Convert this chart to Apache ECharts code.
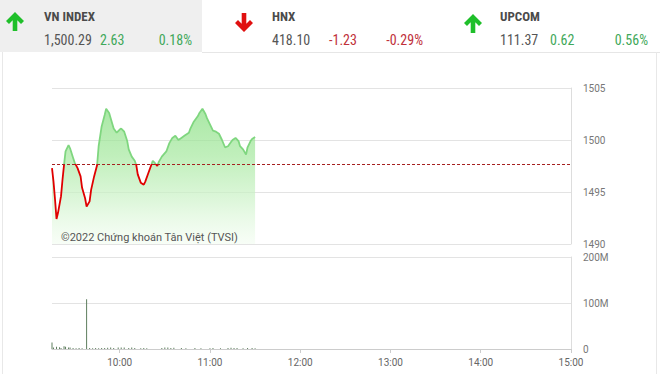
<!DOCTYPE html>
<html>
<head>
<meta charset="utf-8">
<script src="https://cdn.jsdelivr.net/npm/echarts@6/dist/echarts.min.js"></script>
<style>
html,body{margin:0;padding:0;background:#fff;}
#c{width:660px;height:374px;}
</style>
</head>
<body>
<div id="c"></div>
<script>
// ---- data ----
const refValue = 1497.66;
const priceTimes = ["09:15","09:16","09:17","09:18","09:19","09:21","09:22","09:23","09:24","09:26","09:27","09:29","09:30","09:32","09:34","09:35","09:37","09:38","09:40","09:41","09:43","09:45","09:46","09:48","09:50","09:51","09:53","09:54","09:56","09:58","10:00","10:01","10:03","10:05","10:06","10:08","10:10","10:11","10:12","10:14","10:16","10:17","10:19","10:21","10:22","10:23","10:25","10:26","10:28","10:31","10:33","10:35","10:37","10:39","10:41","10:43","10:46","10:47","10:49","10:52","10:53","10:55","10:57","10:58","11:00","11:02","11:04","11:06","11:08","11:10","11:12","11:14","11:15","11:17","11:19","11:20","11:22","11:24","11:25","11:27","11:28","11:30"];
const priceValues = [1497.3,1496.0,1494.3,1492.4,1493.0,1494.6,1496.2,1497.6,1498.9,1499.5,1499.2,1498.3,1497.85,1497.3,1496.5,1495.4,1494.4,1493.6,1494.1,1495.2,1496.5,1497.6,1499.4,1501.3,1502.4,1503.0,1502.6,1502.1,1501.1,1500.7,1501.0,1501.1,1500.8,1499.9,1499.1,1498.4,1498.0,1497.6,1496.7,1495.9,1495.7,1496.0,1496.8,1497.6,1498.0,1497.85,1497.5,1497.9,1498.4,1498.9,1499.7,1500.2,1500.4,1500.0,1500.2,1500.4,1500.7,1501.1,1501.7,1502.3,1502.6,1503.0,1502.5,1502.1,1501.5,1500.9,1500.8,1500.6,1500.0,1499.3,1499.4,1499.8,1500.0,1500.2,1499.9,1499.4,1499.1,1498.6,1499.3,1499.9,1500.1,1500.29];
const volTimes = ["09:15","09:16","09:18","09:20","09:21","09:23","09:24","09:26","09:27","09:29","09:31","09:33","09:35","09:38","09:40","09:42","09:44","09:46","09:48","09:50","09:52","09:54","09:56","09:59","10:01","10:03","10:06","10:08","10:10","10:14","10:16","10:18","10:28","10:30","10:32","10:34","10:36","10:41","10:44","10:50","10:54","11:00","11:02","11:07","11:12","11:14","11:16","11:18","11:22","11:25","11:28","11:30"];
const volValues = [14,3,5,4,2,6,5,3,3,2,1.5,2,1.5,108,2,1.5,2,1.5,2,2,2.5,3,2,3.5,3,3,2,3,2,1.5,2,1.5,2,3,3.5,2,2.5,2,1.5,2,1.5,1.5,2,1.5,2,2.5,2,2,1.5,2,2,1.5];
const hourTicks = ["10:00","11:00","12:00","13:00","14:00","15:00"];
const header = [
  {name:"VN INDEX", value:"1,500.29", change:"2.63", pct:"0.18%", up:true},
  {name:"HNX", value:"418.10", change:"-1.23", pct:"-0.29%", up:false},
  {name:"UPCOM", value:"111.37", change:"0.62", pct:"0.56%", up:true}
];

// ---- helpers ----
function toMin(s){const p=s.split(':');return (+p[0])*60+(+p[1]);}
function fmt(m){const h=Math.floor(m/60), mm=m%60;return (h<10?'0':'')+h+':'+(mm<10?'0':'')+mm;}
const priceData = priceTimes.map((t,i)=>[toMin(t), priceValues[i]]);
const volData = volTimes.map((t,i)=>[toMin(t), volValues[i]]);
const hourMins = hourTicks.map(toMin);

// header graphics
const narrow = "'Liberation Sans Narrow','Roboto Condensed','Roboto',sans-serif";
const g = [];
g.push({type:'rect', shape:{x:0,y:0,width:202,height:52}, style:{fill:'#efefef'}, silent:true});
g.push({type:'line', shape:{x1:202,y1:52.5,x2:660,y2:52.5}, style:{stroke:'#e6e6e6',lineWidth:1}});
g.push({type:'line', shape:{x1:2.5,y1:52,x2:2.5,y2:374}, style:{stroke:'#e8e8e8',lineWidth:1}});
g.push({type:'line', shape:{x1:656.5,y1:52,x2:656.5,y2:374}, style:{stroke:'#e8e8e8',lineWidth:1}});
const arrowCx = [15, 244, 473];
const arrowTop = [12, 13, 14];
header.forEach((h,i)=>{
  const cx = arrowCx[i], t = arrowTop[i], H = 19;
  let pts;
  if(h.up){
    pts=[[cx,t],[cx+9,t+9],[cx+6,t+12],[cx+2.3,t+8.3],[cx+2.3,t+H],[cx-2.3,t+H],[cx-2.3,t+8.3],[cx-6,t+12],[cx-9,t+9]];
  } else {
    const b=t+H;
    pts=[[cx,b],[cx+9,b-9],[cx+6,b-12],[cx+2.3,b-8.3],[cx+2.3,t],[cx-2.3,t],[cx-2.3,b-8.3],[cx-6,b-12],[cx-9,b-9]];
  }
  g.push({type:'polygon', shape:{points:pts}, style:{fill: h.up ? '#1fbf2a' : '#e01010'}});
  const x0 = [44, 272, 500][i];
  const col = h.up ? '#3fa85a' : '#c0303a';
  g.push({type:'text', x:x0, y:16, style:{text:h.name, font:"bold 13px "+narrow, fill:'#4a4a4a', textVerticalAlign:'middle'}});
  g.push({type:'text', x:x0, y:40, style:{text:h.value, font:"14px "+narrow, fill:'#555', textVerticalAlign:'middle'}});
  g.push({type:'text', x:[100,329,550][i], y:40, style:{text:h.change, font:"14px "+narrow, fill:col, textVerticalAlign:'middle'}});
  g.push({type:'text', x:[192,423,648][i], y:40, style:{text:h.pct, font:"14px "+narrow, fill:col, textVerticalAlign:'middle', textAlign:'right'}});
});
g.push({type:'text', x:61, y:237, z:100, zlevel:0, style:{text:'©2022 Chứng khoán Tân Việt (TVSI)', font:"11px Roboto, sans-serif", fill:'#555', textVerticalAlign:'middle'}});

const chart = echarts.init(document.getElementById('c'), null, {renderer:'svg'});
chart.setOption({
  animation:false,
  backgroundColor:'#fff',
  graphic: g,
  grid:[
    {left:52, right:89, top:88, height:156},
    {left:52, right:89, top:257, height:92}
  ],
  xAxis:[
    {type:'value', gridIndex:0, min:555, max:900, axisLine:{show:false}, axisTick:{show:false}, axisLabel:{show:false}, splitLine:{show:false}},
    {type:'value', gridIndex:1, min:555, max:900,
      axisLine:{show:true, lineStyle:{color:'#cccccc'}},
      axisTick:{show:true, customValues:hourMins, length:4, lineStyle:{color:'#cccccc'}},
      axisLabel:{customValues:hourMins, formatter:v=>fmt(v), color:'#666', fontSize:10, fontFamily:'Roboto', margin:8},
      splitLine:{show:false}}
  ],
  yAxis:[
    {type:'value', gridIndex:0, position:'right', min:1490, max:1505, interval:5,
      axisLine:{show:true, lineStyle:{color:'#dddddd'}}, axisTick:{show:false},
      axisLabel:{color:'#777', fontSize:10, fontFamily:'Roboto', margin:12, formatter:v=>String(v)},
      splitLine:{lineStyle:{color:'#e3e3e3'}}},
    {type:'value', gridIndex:1, position:'right', min:0, max:200, interval:100,
      axisLine:{show:true, lineStyle:{color:'#dddddd'}}, axisTick:{show:false},
      axisLabel:{color:'#777', fontSize:10, fontFamily:'Roboto', margin:12, formatter:v=> v===0?'0':v+'M'},
      splitLine:{lineStyle:{color:'#e3e3e3'}}}
  ],
  visualMap:{type:'piecewise', show:false, seriesIndex:0, dimension:1,
    pieces:[{gt:refValue, lte:1600, color:'#7fd67f'},{gte:1400, lte:refValue, color:'#e00000'}],
    outOfRange:{color:'#7fd67f'}},
  series:[
    {type:'line', xAxisIndex:0, yAxisIndex:0, data:priceData, symbol:'none', smooth:false, z:2,
      lineStyle:{width:1.8},
      areaStyle:{color:{type:'linear', x:0, y:0, x2:0, y2:1, colorStops:[
        {offset:0, color:'#86df80'},
        {offset:0.35, color:'#a6e89f'},
        {offset:0.7, color:'#d2f4ce'},
        {offset:1, color:'rgba(240,252,238,0.7)'}]}},
      markLine:{symbol:'none', silent:true, label:{show:false},
        lineStyle:{type:[3,2], color:'#a52020', width:1},
        data:[{yAxis:refValue}]}},
    {type:'bar', xAxisIndex:1, yAxisIndex:1, data:volData, barWidth:1,
      itemStyle:{color:'#5e7e5e'}}
  ]
});
</script>
</body>
</html>
